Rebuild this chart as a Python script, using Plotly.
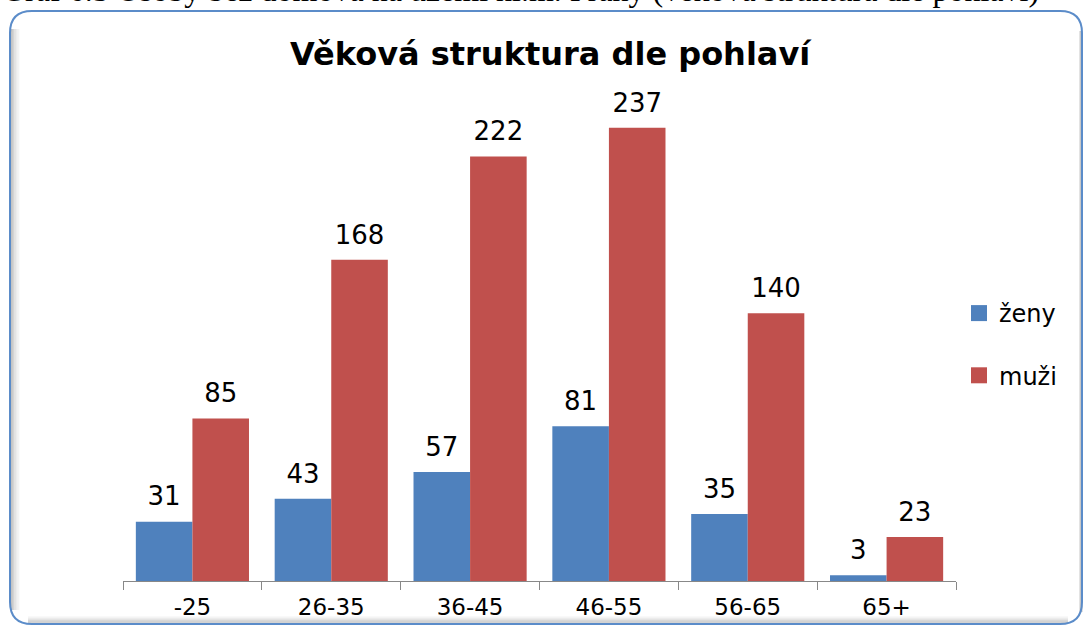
import plotly.graph_objects as go

categories = ["-25", "26-35", "36-45", "46-55", "56-65", "65+"]
zeny = [31, 43, 57, 81, 35, 3]
muzi = [85, 168, 222, 237, 140, 23]
series_names = ["ženy", "muži"]
colors = ["#4F81BD", "#C0504D"]

title_text = "Věková struktura dle pohlaví"
caption_text = "Graf 6.5 Osoby bez domova na území hl.m. Prahy (věková struktura dle pohlaví)"

FW, FH = 1085, 628
L, R, T, B = 123, 956, 103, 581  # plot area in page pixels
PW, PH = R - L, B - T


def px(x):
    return (x - L) / PW


def py(y):
    return (B - y) / PH


FONT = "DejaVu Sans"
BARGAP = 0.185

fig = go.Figure()
for name, vals, col in zip(series_names, [zeny, muzi], colors):
    fig.add_trace(go.Bar(
        x=categories, y=vals, name=name, marker=dict(color=col, line=dict(width=0)),
        showlegend=False, hoverinfo="skip",
    ))
for name, vals in zip(series_names, [zeny, muzi]):
    fig.add_trace(go.Scatter(
        x=categories, y=vals, mode="markers+text", text=[str(v) for v in vals],
        textposition="top center", marker=dict(size=14, color="rgba(0,0,0,0)"),
        textfont=dict(size=26, color="#000000", family=FONT),
        cliponaxis=False, showlegend=False, hoverinfo="skip",
    ))
for i, (name, col) in enumerate(zip(series_names, colors)):
    fig.add_trace(go.Scatter(
        x=[None], y=[None], mode="markers", name=name, legendgroup=f"g{i}",
        marker=dict(symbol="square", size=16, color=col),
        xaxis="x2", yaxis="y2",
    ))

# rounded box
x0, x1, y0, y1, r = 10, 1082, 11, 624, 22
path = (
    f"M {px(x0)},{py(y0 + r)} Q {px(x0)},{py(y0)} {px(x0 + r)},{py(y0)} "
    f"L {px(x1 - r)},{py(y0)} Q {px(x1)},{py(y0)} {px(x1)},{py(y0 + r)} "
    f"L {px(x1)},{py(y1 - r)} Q {px(x1)},{py(y1)} {px(x1 - r)},{py(y1)} "
    f"L {px(x0 + r)},{py(y1)} Q {px(x0)},{py(y1)} {px(x0)},{py(y1 - r)} Z"
)
shapes = []
grays = ["#c4c4c4", "#d4d4d4", "#e2e2e2", "#ececec", "#f4f4f4"]
for k, g in enumerate(grays):
    shapes.append(dict(type="line", xref="paper", yref="paper",
                       x0=px(12 + k * 1.6), x1=px(12 + k * 1.6), y0=py(y0 + 18), y1=py(y1 - 14),
                       line=dict(color=g, width=2), layer="below"))
    shapes.append(dict(type="line", xref="paper", yref="paper",
                       x0=px(x0 + 18), x1=px(x1 - 14), y0=py(y1 - 2 - k * 1.2), y1=py(y1 - 2 - k * 1.2),
                       line=dict(color=g, width=1.5), layer="below"))
shapes.append(dict(type="line", xref="paper", yref="paper",
                   x0=px(x1 - 1), x1=px(x1 - 1), y0=py(y0 + 20), y1=py(y1 - 12),
                   line=dict(color="#c8c8c8", width=3), layer="below"))
shapes.append(dict(type="path", path=path, xref="paper", yref="paper",
                   line=dict(color="#5B8CC9", width=2), fillcolor="rgba(0,0,0,0)", layer="below"))

fig.update_layout(
    width=FW, height=FH,
    margin=dict(l=L, r=FW - R, t=T, b=FH - B, pad=0, autoexpand=False),
    paper_bgcolor="white", plot_bgcolor="white",
    barmode="group", bargap=BARGAP, bargroupgap=0,
    scattermode="group", scattergap=BARGAP,
    shapes=shapes,
    showlegend=True,
    legend=dict(x=px(959), y=py(291), xanchor="left", yanchor="top",
                font=dict(size=24, family=FONT, color="#000000"),
                tracegroupgap=28, bgcolor="rgba(0,0,0,0)", itemwidth=30),
    xaxis=dict(showline=True, linecolor="#888888", linewidth=1,
               ticks="outside", tickson="boundaries", ticklen=8, tickcolor="#888888",
               tickfont=dict(size=23, family=FONT, color="#000000"), showgrid=False,
               ticklabelstandoff=5, fixedrange=True, automargin=False),
    yaxis=dict(range=[0, 250], visible=False, showgrid=False, fixedrange=True,
               automargin=False),
    xaxis2=dict(overlaying="x", visible=False, range=[0, 1], fixedrange=True),
    yaxis2=dict(overlaying="y", visible=False, range=[0, 1], fixedrange=True),
    annotations=[
        dict(text=f"<b>{title_text}</b>", xref="paper", yref="paper", x=px(551), y=py(54),
             xanchor="center", yanchor="middle", showarrow=False,
             font=dict(size=32, family=FONT, color="#000000")),
        dict(text=caption_text, xref="paper", yref="paper", x=px(0), y=py(10),
             xanchor="left", yanchor="bottom", showarrow=False,
             font=dict(size=32, family="Liberation Serif", color="#000000")),
    ],
)

fig.write_html(
    "out.html",
    config={"displayModeBar": False},
    post_script="document.body.style.margin='0px';document.body.style.overflow='hidden';",
)
